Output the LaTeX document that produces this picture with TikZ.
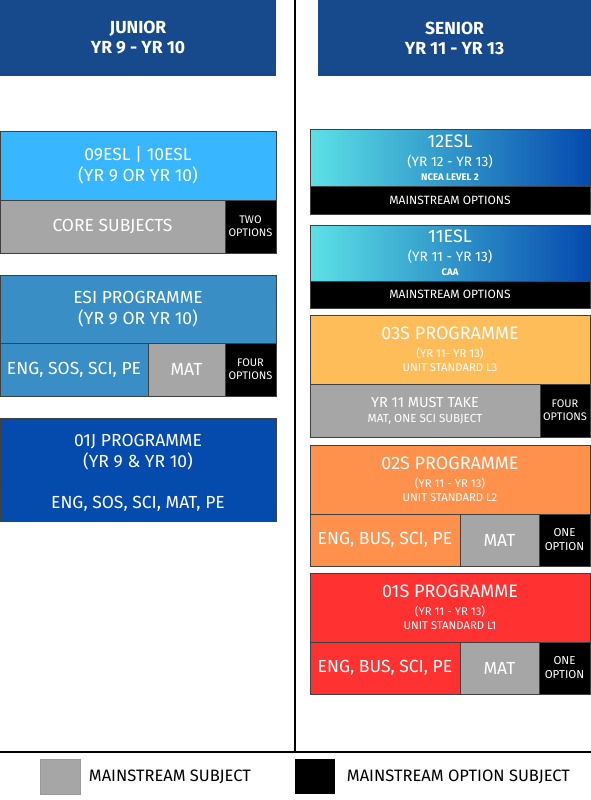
\documentclass[tikz,border=0pt]{standalone}
\usepackage{fontspec}
\setmainfont{Fira Sans}
\usetikzlibrary{positioning}
\definecolor{hdblue}{HTML}{174A8C}
\definecolor{skyblue}{HTML}{38B6FF}
\definecolor{esiblue}{HTML}{3A8EC6}
\definecolor{deepblue}{HTML}{054AAD}
\definecolor{aqua}{HTML}{5CE1E6}
\definecolor{gold}{HTML}{FFBD59}
\definecolor{tangerine}{HTML}{FF914D}
\definecolor{scarlet}{HTML}{FF3131}
\definecolor{subgray}{HTML}{A6A6A6}

\begin{document}
\begin{tikzpicture}[x=1pt,y=-1pt,
  box/.style={draw=black!75,line width=0.6pt,rectangle,inner sep=0pt,outer sep=0pt,align=center,text=white},
  head/.style={box,draw=none,fill=hdblue,anchor=north west,minimum width=276pt,minimum height=76pt,font=\bfseries\fontsize{17.5}{20}\selectfont},
  gray/.style={box,fill=subgray},
  opt/.style={box,fill=black,font=\fontsize{11}{13}\selectfont},
  big/.style={font=\fontsize{17.5}{21}\selectfont},
  keytxt/.style={anchor=west,font=\fontsize{16.5}{18}\selectfont}]
\useasboundingbox (0,0) rectangle (591,800);
% headers and rules
\node[head] (junior) at (0,0) {JUNIOR\\YR 9 - YR 10};
\node[head,minimum width=273pt] (senior) at (318,0) {SENIOR\\YR 11 - YR 13};
\coordinate (top) at (295,0);
\coordinate (mid) at (295,752);
\coordinate (left) at (0,752);
\coordinate (right) at (591,752);
\draw[line width=1.4pt] (top)--(mid);
\draw[line width=1.4pt] (left)--(right);
% junior
\node[box,big,fill=skyblue,anchor=north west,minimum width=276pt,minimum height=69pt] (eslj) at (0,131) {09ESL | 10ESL\\(YR 9 OR YR 10)};
\node[gray,big,anchor=north west,minimum width=225pt,minimum height=53pt] (core) at (0,200) {CORE SUBJECTS};
\node[opt,minimum width=51pt,minimum height=53pt,right=0pt of core] (twoopt) {TWO\\OPTIONS};

\node[box,big,fill=esiblue,anchor=north west,minimum width=276pt,minimum height=68pt] (esi) at (0,275) {ESI PROGRAMME\\(YR 9 OR YR 10)};
\node[box,big,fill=esiblue,anchor=north west,minimum width=148pt,minimum height=53pt] (esisub) at (0,343) {ENG, SOS, SCI, PE};
\node[gray,big,minimum width=77pt,minimum height=53pt,right=0pt of esisub] (esimat) {MAT};
\node[opt,minimum width=51pt,minimum height=53pt,right=0pt of esimat] (esiopt) {FOUR\\OPTIONS};

\node[box,big,fill=deepblue,anchor=north west,minimum width=276pt,minimum height=69pt] (j01) at (0,418) {01J PROGRAMME\\(YR 9 \& YR 10)};
\node[box,big,fill=deepblue,anchor=north west,minimum width=276pt,minimum height=34pt] (j01sub) at (0,487) {ENG, SOS, SCI, MAT, PE};
% senior
\node[box,left color=aqua,right color=deepblue,anchor=north west,minimum width=280pt,minimum height=57pt,font=\fontsize{9.6}{14}\selectfont] (esl12) at (310,129) {{\fontsize{18}{19}\selectfont 12ESL}\\[5pt]{\fontsize{13.6}{15}\selectfont (YR 12 - YR 13)}\\{\bfseries NCEA LEVEL 2}};
\node[opt,anchor=north west,minimum width=280pt,minimum height=28pt,font=\fontsize{12}{14}\selectfont] (esl12opt) at (310,186) {MAINSTREAM OPTIONS};

\node[box,left color=aqua,right color=deepblue,anchor=north west,minimum width=280pt,minimum height=56pt,font=\fontsize{9.6}{14}\selectfont] (esl11) at (310,225) {{\fontsize{18}{19}\selectfont 11ESL}\\[5pt]{\fontsize{13.6}{15}\selectfont (YR 11 - YR 13)}\\{\bfseries CAA}};
\node[opt,anchor=north west,minimum width=280pt,minimum height=27pt,font=\fontsize{12}{14}\selectfont] (esl11opt) at (310,281) {MAINSTREAM OPTIONS};

\node[box,fill=gold,anchor=north west,minimum width=280pt,minimum height=69pt,font=\fontsize{11.3}{14.5}\selectfont] (s03) at (310,315) {{\fontsize{18}{20}\selectfont 03S PROGRAMME}\\[3pt](YR 11- YR 13)\\UNIT STANDARD L3};
\node[gray,anchor=north west,minimum width=230pt,minimum height=53pt,font=\fontsize{11.7}{15}\selectfont] (s03core) at (310,384) {{\fontsize{14.5}{16}\selectfont YR 11 MUST TAKE}\\MAT, ONE SCI SUBJECT};
\node[opt,minimum width=50pt,minimum height=53pt,right=0pt of s03core] (s03opt) {FOUR\\OPTIONS};

\node[box,fill=tangerine,anchor=north west,minimum width=280pt,minimum height=69pt,font=\fontsize{11.3}{14.5}\selectfont] (s02) at (310,445) {{\fontsize{18}{20}\selectfont 02S PROGRAMME}\\[3pt](YR 11 - YR 13)\\UNIT STANDARD L2};
\node[box,big,fill=tangerine,anchor=north west,minimum width=150pt,minimum height=52pt] (s02sub) at (310,514) {ENG, BUS, SCI, PE};
\node[gray,big,minimum width=79pt,minimum height=52pt,right=0pt of s02sub] (s02mat) {MAT};
\node[opt,minimum width=51pt,minimum height=52pt,right=0pt of s02mat,font=\fontsize{11.5}{14}\selectfont] (s02opt) {ONE\\OPTION};

\node[box,fill=scarlet,anchor=north west,minimum width=280pt,minimum height=69pt,font=\fontsize{11.3}{14.5}\selectfont] (s01) at (310,573) {{\fontsize{18}{20}\selectfont 01S PROGRAMME}\\[3pt](YR 11 - YR 13)\\UNIT STANDARD L1};
\node[box,big,fill=scarlet,anchor=north west,minimum width=150pt,minimum height=52pt] (s01sub) at (310,642) {ENG, BUS, SCI, PE};
\node[gray,big,minimum width=79pt,minimum height=52pt,right=0pt of s01sub] (s01mat) {MAT};
\node[opt,minimum width=51pt,minimum height=52pt,right=0pt of s01mat,font=\fontsize{11.5}{14}\selectfont] (s01opt) {ONE\\OPTION};
% key
\node[fill=subgray,draw=black!40,line width=0.4pt,anchor=north west,minimum width=40pt,minimum height=35pt,inner sep=0pt] (keygray) at (40,759) {};
\node[keytxt,right=5pt of keygray] (keygraytxt) {MAINSTREAM SUBJECT};
\node[fill=black,anchor=north west,minimum width=40pt,minimum height=35pt,inner sep=0pt] (keyblack) at (295,759) {};
\node[keytxt,right=8pt of keyblack] (keyblacktxt) {MAINSTREAM OPTION SUBJECT};
\end{tikzpicture}
\end{document}
